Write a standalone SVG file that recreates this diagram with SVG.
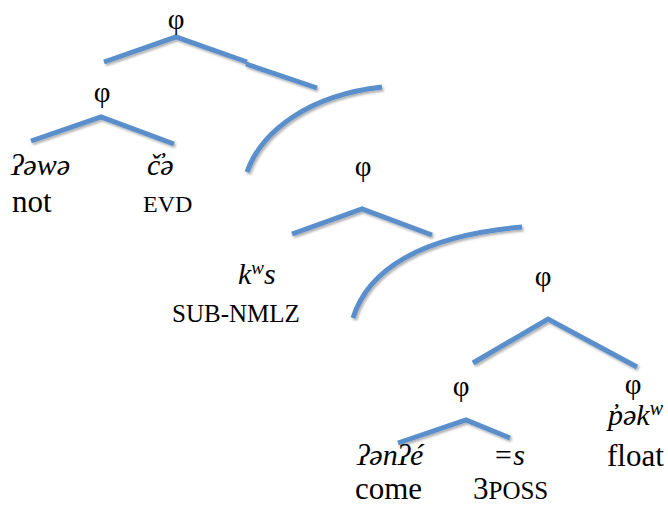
<svg xmlns="http://www.w3.org/2000/svg" width="668" height="506" viewBox="0 0 668 506">
<defs>
<filter id="sh" x="-10%" y="-10%" width="120%" height="130%">
<feDropShadow dx="1.5" dy="2" stdDeviation="1.2" flood-color="#000" flood-opacity="0.3"/>
</filter>
<style>
.ln{fill:none;stroke:#5A8FCB;stroke-width:5;stroke-linecap:butt;stroke-linejoin:miter;filter:url(#sh)}
text{font-family:"Liberation Serif","Times New Roman",serif;fill:#000}
.phi{font-size:29px;text-anchor:middle}
.w{font-size:31px}
.it{font-style:italic;font-size:30px}
.sc{font-size:24px}
</style>
</defs>
<rect width="668" height="506" fill="#fff"/>
<g id="connectors">
<path class="ln" d="M104,62 L176,37 L247,62"/>
<path class="ln" d="M246,64 L317,88"/>
<path class="ln" d="M31,141 L101,117 L174,144"/>
<path class="ln" d="M292,234 L362,209 L432,235"/>
<path class="ln" d="M473,363 L548,319 L637,367"/>
<path class="ln" d="M398,443 L466,420 L510,438"/>
<path class="ln" d="M247,172 C262,130 310,95 382,87"/>
<path class="ln" d="M353,318 C368,270 420,236 522,227"/>
</g>
<g id="phi-top"><text class="phi" x="176" y="29">φ</text></g>
<g id="phi-2"><text class="phi" x="102" y="102">φ</text></g>
<g id="phi-3"><text class="phi" x="363" y="176">φ</text></g>
<g id="phi-4"><text class="phi" x="543" y="286">φ</text></g>
<g id="phi-5"><text class="phi" x="461" y="396">φ</text></g>
<g id="phi-6"><text class="phi" x="633" y="394">φ</text></g>
<g id="w-awa"><text class="it" x="11" y="175">ʔəwə</text><text class="w" x="12" y="212">not</text></g>
<g id="w-ca"><text class="it" x="147" y="175">č̓ə</text><text class="sc" x="143" y="212">EVD</text></g>
<g id="w-kws"><text class="it" x="238" y="284">k<tspan font-size="19" dy="-10">w</tspan><tspan dy="10">s</tspan></text><text x="172" y="322" font-size="25">SUB-NMLZ</text></g>
<g id="w-anae"><text class="it" x="357" y="465">ʔənʔé</text><text class="w" x="355" y="499">come</text></g>
<g id="w-s"><text class="it" x="493" y="465">=s</text><text class="w" x="473" y="499">3<tspan font-size="25">POSS</tspan></text></g>
<g id="w-pakw"><text class="it" x="608" y="425" font-size="31">p̓ək<tspan font-size="20" dy="-10">w</tspan></text><text class="w" x="607" y="466" font-size="32">float</text></g>
</svg>
